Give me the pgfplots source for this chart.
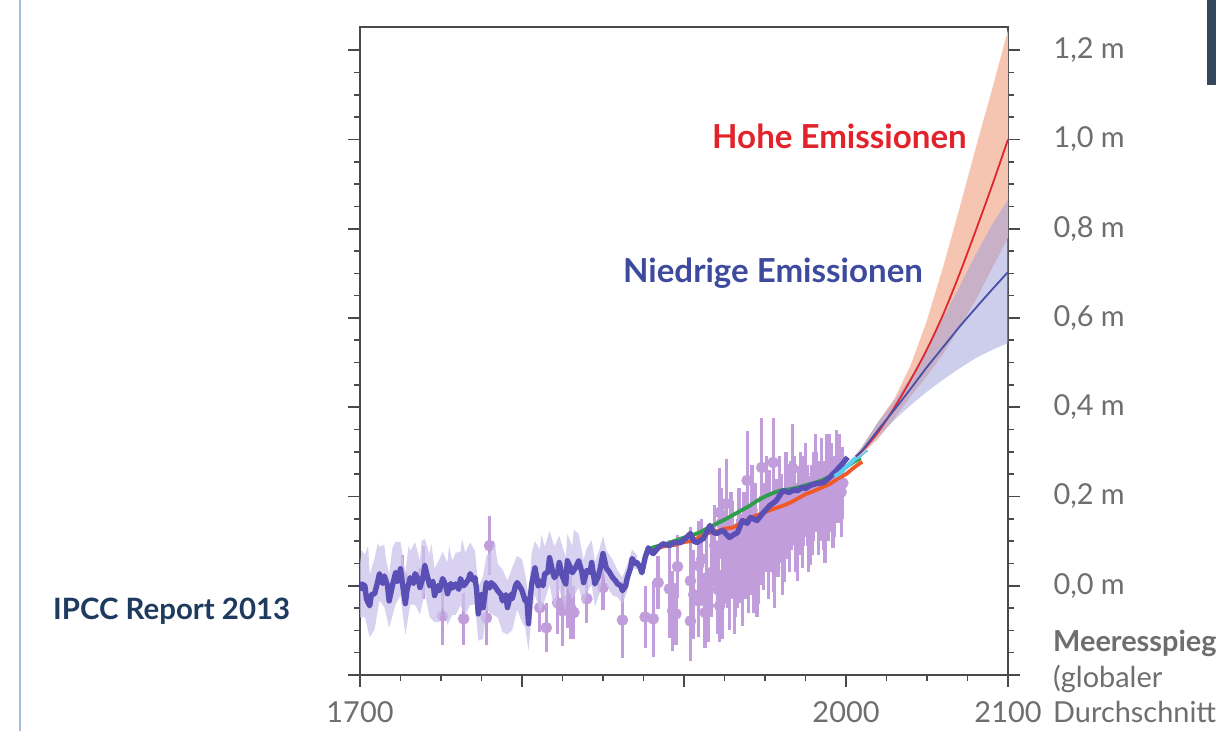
\documentclass[border=0pt]{standalone}
\usepackage{fontspec}
\setmainfont{Lato}
\usepackage{pgfplots}
\pgfplotsset{compat=1.18}
\usepackage{pgfplotstable}

\definecolor{axisgray}{HTML}{4A4A4A}
\definecolor{labgray}{HTML}{6E6E6E}
\definecolor{darkl}{HTML}{5A4FB4}
\definecolor{bandc}{HTML}{CBC2EA}
\definecolor{dotc}{HTML}{C29DDB}
\definecolor{greenl}{HTML}{2E9E4A}
\definecolor{orangel}{HTML}{EF5A28}
\definecolor{cyanl}{HTML}{5DCDF0}
\definecolor{redl}{HTML}{E0262E}
\definecolor{bluel}{HTML}{4850AA}
\definecolor{peach}{HTML}{F6C5B1}
\definecolor{lav}{HTML}{9C9CDB}
\definecolor{hohe}{HTML}{E2232B}
\definecolor{niedrig}{HTML}{3D4A9E}
\definecolor{navy}{HTML}{1E3A5F}
\definecolor{sideline}{HTML}{A3BDE3}
\definecolor{slate}{HTML}{34485D}

\pgfplotstableread{
yr v
1700 -0.011
1701 0.004
1703 0.0
1704 -0.03
1706 -0.045
1707 -0.02
1709 -0.018
1711 0.01
1712 0.027
1714 0.005
1715 0.022
1717 0.0
1718 -0.034
1720 0.0
1722 0.029
1723 0.01
1725 0.038
1726 0.01
1728 -0.04
1729 -0.01
1731 0.018
1733 0.005
1734 0.027
1736 0.015
1737 -0.004
1739 0.02
1740 0.045
1742 0.015
1743 0.0
1745 0.01
1746 -0.022
1748 0.0
1749 -0.011
1751 0.016
1753 0.0
1754 -0.018
1756 0.005
1757 -0.005
1759 0.004
1761 -0.008
1762 0.016
1764 0.0
1765 0.004
1767 0.015
1768 0.027
1770 0.012
1771 0.018
1772 -0.01
1773 -0.063
1775 -0.02
1776 -0.049
1778 0.007
1780 -0.005
1781 0.007
1783 0.0
1785 -0.011
1787 -0.02
1788 -0.034
1790 -0.02
1791 -0.049
1793 -0.02
1794 -0.029
1796 0.0
1797 0.007
1799 -0.004
1800 -0.011
1802 -0.034
1803 -0.03
1804 -0.085
1805 -0.03
1806 0.004
1808 0.04
1810 0.0
1811 0.011
1813 0.0
1814 0.027
1816 0.03
1817 0.063
1819 0.03
1820 0.018
1822 0.03
1823 0.052
1825 0.02
1827 0.004
1828 0.056
1830 0.04
1831 0.029
1833 0.04
1835 0.056
1837 0.03
1838 0.007
1840 0.034
1842 0.03
1843 0.052
1845 0.004
1847 0.02
1848 0.034
1850 0.072
1852 0.04
1854 0.03
1856 0.018
1858 0.01
1859 0.004
1861 0.0
1862 -0.011
1864 0.0
1865 0.018
1867 0.04
1868 0.061
1870 0.05
1871 0.052
1873 0.04
1874 0.029
1876 0.063
1878 0.085
1880 0.075
1881 0.072
1884 0.085
1887 0.094
1891 0.09
1894 0.097
1898 0.097
1901 0.106
1904 0.117
1906 0.1
1908 0.097
1912 0.106
1916 0.135
1918 0.12
1920 0.117
1924 0.124
1928 0.108
1931 0.115
1933 0.119
1936 0.146
1939 0.14
1941 0.153
1945 0.146
1947 0.155
1949 0.164
1953 0.18
1955 0.185
1957 0.191
1961 0.213
1965 0.209
1968 0.215
1970 0.213
1973 0.22
1975 0.218
1978 0.225
1982 0.229
1986 0.231
1990 0.243
1994 0.258
1998 0.274
2001 0.288
}\darktab

% uncertainty band as closed outline: upper edge forward, lower edge back
\pgfplotstableread{
yr v
1700 0.049
1701 0.080
1703 0.070
1705 0.090
1706 0.025
1709 0.062
1711 0.095
1712 0.087
1715 0.092
1716 0.060
1718 0.026
1720 0.085
1722 0.099
1725 0.098
1728 0.030
1730 0.090
1731 0.078
1734 0.097
1737 0.056
1738 0.100
1740 0.105
1743 0.070
1744 0.095
1746 0.038
1749 0.059
1751 0.076
1754 0.052
1755 0.090
1757 0.055
1759 0.074
1762 0.076
1763 0.105
1765 0.074
1768 0.097
1771 0.078
1773 -0.003
1776 0.021
1778 0.067
1781 0.077
1783 0.100
1785 0.049
1788 0.036
1791 0.011
1794 0.041
1797 0.067
1800 0.059
1802 0.026
1804 -0.025
1806 0.074
1808 0.100
1811 0.081
1812 0.115
1814 0.087
1817 0.123
1820 0.088
1823 0.112
1827 0.064
1828 0.116
1831 0.089
1832 0.125
1835 0.116
1838 0.057
1840 0.084
1843 0.102
1845 0.054
1848 0.084
1850 0.112
1852 0.080
1856 0.058
1859 0.034
1862 0.019
1865 0.048
1868 0.081
1871 0.068
1871 0.036
1868 0.041
1865 -0.012
1862 -0.041
1859 -0.026
1856 -0.022
1852 0.000
1850 0.032
1848 -0.016
1845 -0.046
1843 0.002
1840 -0.016
1838 -0.043
1835 -0.004
1831 -0.031
1828 -0.004
1827 -0.056
1823 -0.008
1820 -0.052
1817 0.003
1814 -0.033
1811 -0.059
1808 -0.020
1806 -0.066
1804 -0.145
1802 -0.094
1800 -0.081
1797 -0.053
1794 -0.099
1791 -0.109
1788 -0.104
1785 -0.071
1781 -0.063
1778 -0.053
1776 -0.119
1773 -0.123
1771 -0.042
1768 -0.043
1765 -0.066
1762 -0.044
1759 -0.066
1757 -0.065
1754 -0.088
1751 -0.044
1749 -0.081
1746 -0.082
1743 -0.070
1740 -0.015
1737 -0.064
1734 -0.043
1731 -0.042
1728 -0.110
1725 -0.022
1722 -0.041
1718 -0.094
1715 -0.048
1712 -0.033
1709 -0.098
1706 -0.115
1703 -0.070
1700 -0.071
}\bandtab

\pgfplotstableread{
yr v e
1726 0.020 0.05
1739 0.030 0.06
1751 -0.068 0.065
1764 -0.074 0.058
1778 -0.072 0.06
1780 0.090 0.066
1811 -0.049 0.055
1815 -0.094 0.055
1822 -0.038 0.07
1825 -0.056 0.08
1828 -0.034 0.06
1830 -0.049 0.07
1832 -0.060 0.06
1840 -0.029 0.055
1850 -0.004 0.05
1862 -0.077 0.085
1876 -0.070 0.07
1881 -0.074 0.085
1884 0.007 0.06
1891 -0.007 0.11
1893 -0.056 0.09
1895 -0.063 0.07
1896 0.043 0.07
1904 0.011 0.12
1904 -0.079 0.09
1906 -0.020 0.10
1909 0.045 0.10
1909 -0.034 0.08
1911 0.060 0.09
1913 -0.060 0.08
1914 0.018 0.10
1915 -0.045 0.08
1917 0.030 0.10
1919 0.090 0.09
1921 -0.009 0.10
1922 -0.045 0.08
1922 0.164 0.10
1923 0.140 0.08
1924 -0.030 0.09
1925 0.070 0.09
1926 0.184 0.10
1927 0.050 0.10
1928 0.000 0.10
1929 0.120 0.09
1930 0.090 0.10
1931 -0.018 0.09
1932 0.020 0.09
1933 0.050 0.10
1934 0.130 0.09
1935 0.061 0.10
1936 0.000 0.09
1937 0.110 0.10
1938 0.070 0.10
1939 0.236 0.11
1940 0.040 0.10
1941 0.080 0.10
1942 0.170 0.10
1943 0.040 0.10
1944 0.130 0.10
1945 0.020 0.09
1946 0.060 0.10
1947 0.101 0.10
1948 0.265 0.11
1949 0.090 0.10
1950 0.130 0.10
1951 0.190 0.10
1952 0.060 0.09
1953 0.160 0.10
1954 0.120 0.09
1955 0.276 0.10
1955 0.085 0.10
1956 0.040 0.09
1957 0.140 0.10
1958 0.120 0.10
1959 0.190 0.10
1960 0.150 0.10
1961 0.070 0.09
1962 0.108 0.10
1963 0.200 0.10
1964 0.160 0.10
1965 0.120 0.09
1966 0.180 0.10
1967 0.263 0.10
1968 0.200 0.09
1969 0.130 0.10
1970 0.100 0.09
1971 0.169 0.10
1972 0.210 0.09
1973 0.140 0.10
1974 0.190 0.10
1975 0.230 0.09
1976 0.180 0.09
1977 0.120 0.09
1978 0.146 0.10
1979 0.170 0.10
1980 0.200 0.10
1981 0.250 0.09
1982 0.210 0.09
1983 0.170 0.10
1984 0.190 0.09
1985 0.230 0.10
1986 0.180 0.10
1987 0.150 0.10
1988 0.240 0.10
1989 0.200 0.10
1990 0.250 0.09
1991 0.220 0.10
1992 0.184 0.10
1993 0.200 0.09
1994 0.250 0.10
1995 0.220 0.08
1996 0.260 0.08
1997 0.210 0.10
1998 0.230 0.08
}\proxytab

\pgfplotstableread{
yr v
1880 0.085
1890 0.095
1900 0.108
1905 0.113
1910 0.120
1915 0.130
1920 0.139
1925 0.148
1930 0.158
1935 0.168
1940 0.178
1945 0.190
1950 0.200
1955 0.208
1960 0.214
1965 0.216
1970 0.220
1975 0.225
1980 0.230
1985 0.236
1990 0.245
1995 0.256
2000 0.266
2005 0.278
2009 0.286
}\greentab

\pgfplotstableread{
yr v
1880 0.082
1885 0.086
1890 0.090
1895 0.092
1900 0.098
1905 0.100
1910 0.110
1915 0.118
1920 0.122
1925 0.128
1930 0.130
1935 0.140
1940 0.150
1945 0.158
1950 0.165
1955 0.172
1960 0.178
1965 0.185
1970 0.195
1975 0.205
1980 0.212
1985 0.220
1990 0.228
1995 0.240
2000 0.250
2005 0.265
2010 0.278
}\orangetab

\pgfplotstableread{
yr v
1993 0.245
1996 0.252
1999 0.262
2002 0.272
2005 0.283
2008 0.290
2011 0.300
2013 0.305
}\cyantab

\pgfplotstableread{
yr red blue
2006 0.290 0.290
2010 0.302 0.303
2020 0.345 0.350
2030 0.400 0.395
2040 0.462 0.442
2050 0.530 0.490
2060 0.608 0.535
2070 0.698 0.580
2080 0.795 0.622
2090 0.895 0.663
2100 1.000 0.703
}\projtab

% RCP8.5 likely range outline (upper forward, lower back)
\pgfplotstableread{
yr v
2006 0.293
2010 0.312
2020 0.368
2030 0.420
2040 0.495
2050 0.595
2060 0.715
2070 0.845
2080 0.980
2090 1.110
2100 1.245
2100 0.780
2090 0.710
2080 0.640
2070 0.578
2060 0.520
2050 0.470
2040 0.425
2030 0.375
2020 0.330
2010 0.295
2006 0.287
}\redband

% RCP2.6 likely range outline
\pgfplotstableread{
yr v
2006 0.293
2010 0.312
2020 0.368
2030 0.415
2040 0.468
2050 0.530
2060 0.600
2070 0.670
2080 0.742
2090 0.808
2100 0.865
2100 0.544
2090 0.528
2080 0.510
2070 0.487
2060 0.462
2050 0.435
2040 0.405
2030 0.372
2020 0.335
2010 0.297
2006 0.287
}\blueband

\begin{document}
\begin{tikzpicture}
\useasboundingbox (0,0) rectangle (1216bp,731bp);
\fill[white] (0,0) rectangle (1216bp,731bp);
\draw[sideline, line width=2bp] (20bp,0) -- (20bp,731bp);
\fill[slate] (1207bp,646bp) rectangle (1216bp,731bp);

\begin{axis}[
  at={(360bp,56bp)}, anchor=south west,
  width=648bp, height=648bp, scale only axis,
  xmin=1700, xmax=2100, ymin=-0.2, ymax=1.252,
  clip mode=individual,
  axis line style={draw=axisgray, line width=1.6bp},
  tick style={draw=axisgray, line width=1.6bp},
  tick align=outside,
  major tick length=12bp, minor tick length=6bp,
  xtick pos=bottom, ytick pos=both, yticklabel pos=right,
  xtick={1700,1800,1900,2000,2100},
  xticklabels={1700,,,2000,2100},
  minor xtick={1725,1750,1775,1825,1850,1875,1925,1950,1975,2025,2050,2075},
  ytick={-0.2,0,0.2,0.4,0.6,0.8,1.0,1.2},
  yticklabels={,{0,0 m},{0,2 m},{0,4 m},{0,6 m},{0,8 m},{1,0 m},{1,2 m}},
  minor ytick={-0.15,-0.1,-0.05,0.05,0.1,0.15,0.25,0.3,0.35,0.45,0.5,0.55,0.65,0.7,0.75,0.85,0.9,0.95,1.05,1.1,1.15},
  ticklabel style={font=\fontsize{29}{32}\selectfont, text=labgray},
  xticklabel style={anchor=base, yshift=-35bp},
  yticklabel style={anchor=west, xshift=30bp},
]
% proxy data with error bars
\addplot[only marks, mark=*, mark size=5.6bp, color=dotc, mark options={draw=dotc, fill=dotc},
  error bars/.cd, y dir=both, y explicit, error mark=none,
  error bar style={line width=3.2bp, draw=dotc}]
  table[x=yr, y=v, y error=e] {\proxytab};
% uncertainty band
\addplot[draw=none, fill=bandc, fill opacity=0.75] table[x=yr, y=v] {\bandtab} -- cycle;
% instrumental series
\addplot[orangel, line width=3.8bp, line join=round] table[x=yr, y=v] {\orangetab};
\addplot[greenl, line width=3.8bp, line join=round] table[x=yr, y=v] {\greentab};
\addplot[darkl, line width=5.4bp, line join=round] table[x=yr, y=v] {\darktab};
\addplot[cyanl, line width=4.2bp, line join=round] table[x=yr, y=v] {\cyantab};
% projections
\addplot[draw=none, fill=peach] table[x=yr, y=v] {\redband} -- cycle;
\addplot[draw=none, fill=lav, fill opacity=0.5] table[x=yr, y=v] {\blueband} -- cycle;
\addplot[redl, line width=1.8bp, smooth] table[x=yr, y=red] {\projtab};
\addplot[bluel, line width=1.8bp, smooth] table[x=yr, y=blue] {\projtab};

\node[anchor=base west, text=hohe, font=\bfseries\fontsize{33.2}{36}\selectfont, inner sep=0pt]
  at (axis cs:1917.3,0.9798) {Hohe Emissionen};
\node[anchor=base west, text=niedrig, font=\bfseries\fontsize{33.2}{36}\selectfont, inner sep=0pt]
  at (axis cs:1862.3,0.6787) {Niedrige Emissionen};
\end{axis}

\node[anchor=base west, text=navy, font=\bfseries\fontsize{29.5}{32}\selectfont, inner sep=0pt]
  at (53bp,111bp) {IPCC Report 2013};
\node[anchor=base west, text=labgray, font=\bfseries\fontsize{29}{32}\selectfont, inner sep=0pt]
  at (1053bp,79bp) {Meeresspiegel};
\node[anchor=base west, text=labgray, font=\fontsize{29}{32}\selectfont, inner sep=0pt]
  at (1053bp,43bp) {(globaler};
\node[anchor=base west, text=labgray, font=\fontsize{29}{32}\selectfont, inner sep=0pt]
  at (1053bp,9bp) {Durchschnitt)};
\end{tikzpicture}
\end{document}
